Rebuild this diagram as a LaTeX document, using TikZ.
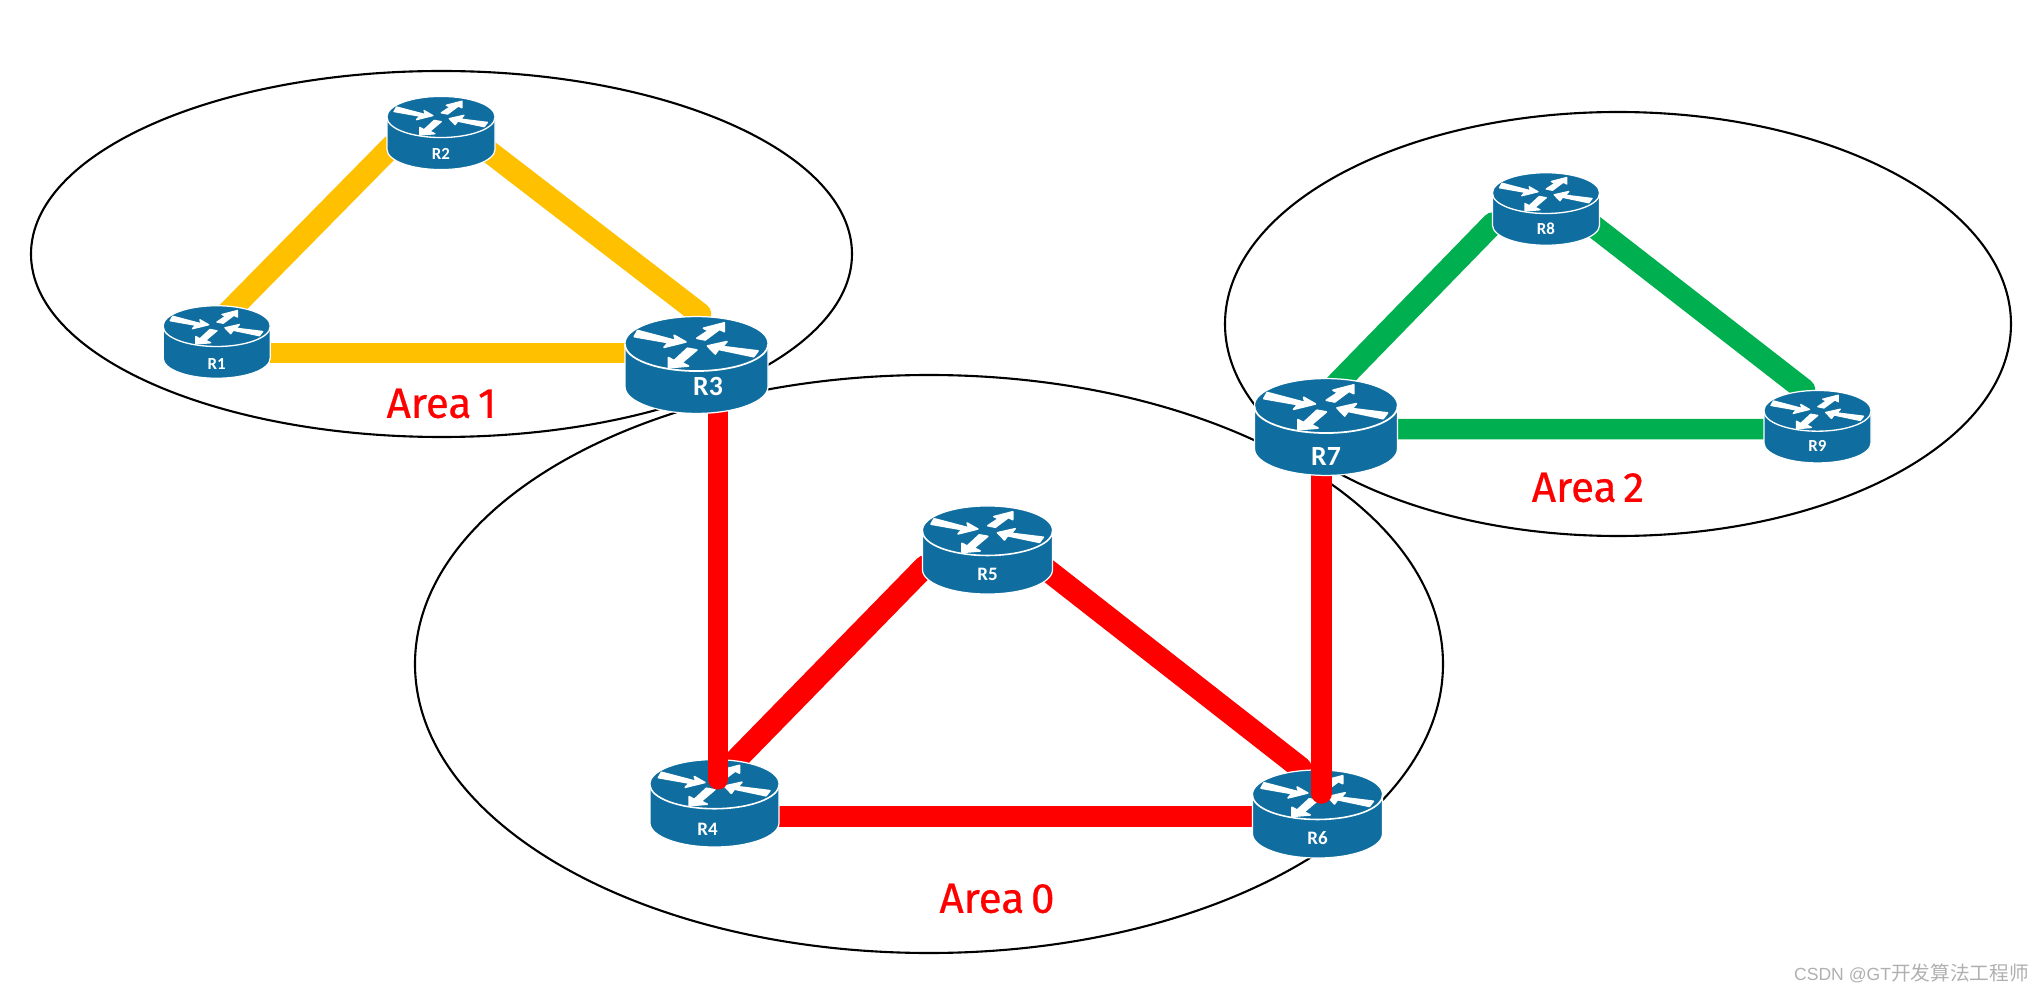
\documentclass[tikz,border=0pt]{standalone}
\usepackage{fontspec}
\newfontfamily\areafont[WordSpace=.6,FakeBold=.6]{Fira Sans}
\newfontfamily\routerfont{Carlito}
\newfontfamily\markfont{Liberation Sans}
\newfontfamily\markcjk{Noto Sans CJK SC}
\definecolor{routerblue}{HTML}{0F6E9F}
\definecolor{linkyellow}{HTML}{FFC000}
\definecolor{linkgreen}{HTML}{00B050}
\definecolor{markgray}{HTML}{B0B0B0}
\tikzset{
  routerbox/.style={minimum width=#1*.01cm,minimum height=#1*.00678cm,inner sep=0,outer sep=0},
  routertext/.style={text=white,font=\routerfont\bfseries\fontsize{#1}{#1}\selectfont,inner sep=0},
  arealabel/.style={text=red,font=\areafont\fontsize{12}{12}\selectfont,inner sep=0},
  areaoval/.style={black,line width=.6pt},
  link/.style={line width=.205cm,line cap=round,line join=round},
  slantlink/.style={line width=.225cm,line cap=round,line join=round},
}
\newcommand{\routerface}[2]{
  \begin{scope}[shift={(#1.center)},scale=#2/428]
    \filldraw[routerblue,draw=white,line width=.35pt]
    (-214,-65) arc[start angle=180,end angle=360,x radius=214,y radius=80]
    -- (214,65) arc[start angle=0,end angle=180,x radius=214,y radius=80] -- cycle;
    \draw[white,line width=#2*.0035pt]
    (-214,-62) arc[start angle=180,end angle=0,x radius=214,y radius=80];
    \filldraw[white,line width=#2*.0035pt,line join=round] (-176,-103) -- (-62,-73) -- (-67,-89) -- (-32,-69) -- (-97,-53) -- (-84,-67) -- (-186,-85) -- cycle;
    \filldraw[white,line width=#2*.0035pt,line join=round] (1,-80) -- (36,-103) -- (21,-110) -- (83,-126) -- (83,-100) -- (69,-107) -- (26,-75) -- cycle;
    \filldraw[white,line width=#2*.0035pt,line join=round] (33,-57) -- (91,-70) -- (78,-55) -- (184,-42) -- (171,-25) -- (66,-47) -- (56,-33) -- cycle;
    \filldraw[white,line width=#2*.0035pt,line join=round] (-84,8) -- (-84,-22) -- (-67,-13) -- (-27,-50) -- (1,-45) -- (-44,-7) -- (-24,3) -- cycle;
  \end{scope}
}
\begin{document}
\begin{tikzpicture}[x=.01cm,y=-.01cm]
  \useasboundingbox (0,0) rectangle (2044,991);

  \draw[areaoval] (441.5,254) ellipse [x radius=410.5,y radius=183];
  \draw[areaoval] (929,664) ellipse [x radius=514,y radius=289];
  \draw[areaoval] (1618,324) ellipse [x radius=393,y radius=212];

  \node[routerbox=107] (R1) at (216.7,342) {};
  \node[routerbox=108] (R2) at (441,133) {};
  \node[routerbox=143] (R3) at (696.5,365) {};
  \node[routerbox=129] (R4) at (714.5,803.3) {};
  \node[routerbox=130] (R5) at (987.5,550) {};
  \node[routerbox=130] (R6) at (1317.5,814) {};
  \node[routerbox=143] (R7) at (1326,427) {};
  \node[routerbox=107] (R8) at (1546,209) {};
  \node[routerbox=107] (R9) at (1817.5,426.7) {};

  \draw[slantlink,linkyellow] ([shift={(3,-21)}]R1.center) -- ([shift={(-49,13)}]R2.center);
  \draw[slantlink,linkyellow] ([shift={(29,4)}]R2.center) -- ([shift={(3.5,-51)}]R3.center);
  \draw[link,linkyellow] ([shift={(0,11)}]R1.center) -- ([shift={(-50,-12)}]R3.center);

  \draw[slantlink,linkgreen] ([shift={(-1,-31)}]R7.center) -- ([shift={(-53,14.5)}]R8.center);
  \draw[slantlink,linkgreen] ([shift={(34,6.6)}]R8.center) -- ([shift={(-13.5,-37)}]R9.center);
  \draw[link,linkgreen] ([shift={(50,2)}]R7.center) -- ([shift={(-50,2.5)}]R9.center);

  \draw[slantlink,red] ([shift={(7.5,-29)}]R4.center) -- ([shift={(-62.5,16.5)}]R5.center);
  \draw[slantlink,red] ([shift={(42.5,6.5)}]R5.center) -- ([shift={(-17,-46)}]R6.center);
  \draw[link,red] ([shift={(50,13)}]R4.center) -- ([shift={(-50,2.3)}]R6.center);

  \routerface{R1}{107}
  \routerface{R2}{108}
  \routerface{R4}{129}
  \routerface{R5}{130}
  \routerface{R6}{130}
  \routerface{R8}{107}
  \routerface{R9}{107}

  \draw[link,red] ([shift={(21.5,35)}]R3.center) -- ([shift={(3.5,-24)}]R4.center);
  \draw[link,red] ([shift={(-4.5,30)}]R7.center) -- ([shift={(4,-20.5)}]R6.center);

  \routerface{R3}{143}
  \routerface{R7}{143}

  \node[routertext=4.8] (R1text) at ([shift={(0,22)}]R1.center) {R1};
  \node[routertext=4.8] (R2text) at ([shift={(0,21)}]R2.center) {R2};
  \node[routertext=7.9] (R3text) at ([shift={(11.5,21)}]R3.center) {R3};
  \node[routertext=5.4] (R4text) at ([shift={(-7,26)}]R4.center) {R4};
  \node[routertext=5.4] (R5text) at ([shift={(0,24)}]R5.center) {R5};
  \node[routertext=5.4] (R6text) at ([shift={(0,24)}]R6.center) {R6};
  \node[routertext=7.9] (R7text) at ([shift={(0,29)}]R7.center) {R7};
  \node[routertext=4.8] (R8text) at ([shift={(0,20)}]R8.center) {R8};
  \node[routertext=4.8] (R9text) at ([shift={(0,19)}]R9.center) {R9};

  \node[arealabel] (area1) at (441.5,403.5) {Area 1};
  \node[arealabel] (area0) at (997,898.5) {Area 0};
  \node[arealabel] (area2) at (1588,487.5) {Area 2};

  \node[text=markgray,inner sep=0] (mark) at (1911.5,973)
  {\fontsize{5}{5}\selectfont\markfont CSDN @GT\fontsize{5.6}{5.6}\selectfont\markcjk 开发算法工程师};
\end{tikzpicture}
\end{document}
